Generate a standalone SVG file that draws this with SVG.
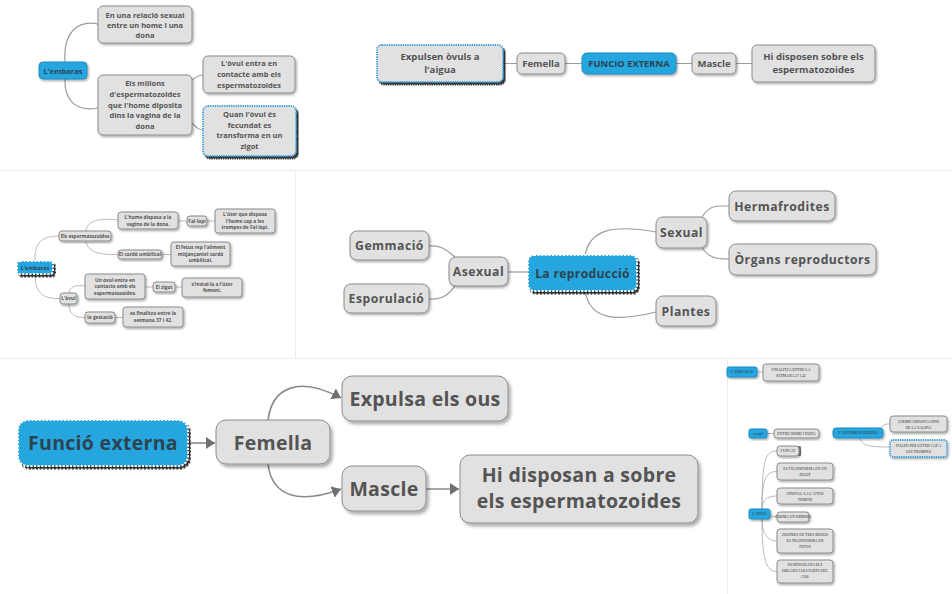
<svg xmlns="http://www.w3.org/2000/svg" width="952" height="594" viewBox="0 0 952 594">
<defs>
<filter id="sh1" x="-20%" y="-20%" width="140%" height="150%"><feDropShadow dx="1.2" dy="1.5" stdDeviation="0.8" flood-color="#000" flood-opacity="0.35"/></filter>
<filter id="sh2" x="-20%" y="-20%" width="140%" height="150%"><feDropShadow dx="2.5" dy="3" stdDeviation="1.5" flood-color="#000" flood-opacity="0.3"/></filter>
<filter id="sh3" x="-20%" y="-20%" width="140%" height="150%"><feDropShadow dx="2" dy="2.5" stdDeviation="0.6" flood-color="#111" flood-opacity="0.85"/></filter>
<marker id="ar" markerUnits="userSpaceOnUse" markerWidth="10" markerHeight="12" refX="9" refY="6" orient="auto"><path d="M0,0 L9,6 L0,12 z" fill="#707070"/></marker>
<style>
.n{fill:#e1e1e1;stroke:#8c8c8c;stroke-width:1}
.b{fill:#27a6de;stroke:#1d8cc0;stroke-width:1}
.bd{fill:#27a6de;stroke:#fff;stroke-width:2;stroke-dasharray:2 1.6}
.gd{fill:#e1e1e1;stroke:#3c9fd6;stroke-width:1.8;stroke-dasharray:1.3 1}
.t{font-family:"Open Sans","DejaVu Sans",sans-serif;font-weight:bold;fill:#545454;text-anchor:middle}
.tb{fill:#2d4350}
.s{font-family:"Liberation Serif","DejaVu Serif",serif;fill:#333;text-anchor:middle;font-size:3.8px}
.c{fill:none;stroke:#9c9c9c;stroke-width:1.2}
.c2{fill:none;stroke:#8a8a8a;stroke-width:1.6}
.c3{fill:none;stroke:#a8a8a8;stroke-width:0.8}
.p{fill:none;stroke:#ececec;stroke-width:1}
</style>
</defs>
<rect x="0" y="0" width="952" height="594" fill="#fff"/>
<g id="panels">
<line class="p" x1="0" y1="170.5" x2="952" y2="170.5"/>
<line class="p" x1="0" y1="358.5" x2="952" y2="358.5"/>
<line class="p" x1="295.5" y1="171" x2="295.5" y2="358"/>
<line class="p" x1="727.5" y1="359" x2="727.5" y2="594"/>
</g>
<g id="connectors">
<!-- top-left -->
<path class="c" d="M65,62 C63,32 78,20 98,24"/>
<path class="c" d="M65,79 C64,102 78,112 98,108"/>
<path class="c" d="M192,80 C197,76 199,75 203,75"/>
<path class="c" d="M192,123 C197,128 199,130 203,130"/>
<!-- top-right -->
<path class="c" d="M503,63.5 H517 M565,63.5 H582 M676,63.5 H692 M736,63.5 H752"/>
<!-- middle-left -->
<path class="c3" d="M35,261 C34,240 45,236 59,236"/>
<path class="c3" d="M86,231 C87,220 100,218 118,220"/>
<path class="c3" d="M86,241 C87,252 100,255 118,254.5"/>
<path class="c3" d="M178,221 H187 M207,221 H215 M162,254.5 H171"/>
<path class="c3" d="M35,274 C35,295 45,299 60,298.5"/>
<path class="c3" d="M69,293 C70,286 75,285 85,286"/>
<path class="c3" d="M69,304 C69,314 75,318 85,317.5"/>
<path class="c3" d="M145,287 H153 M175,287 H182 M115,317.5 H123"/>
<!-- middle-center -->
<path class="c" d="M429,246 C444,245 448,252 455,257"/>
<path class="c" d="M429,299 C445,300 450,292 455,286"/>
<path class="c" d="M508,272 H528"/>
<path class="c" d="M585,255 C590,230 612,224 656,232"/>
<path class="c" d="M585,291 C590,320 615,322 656,312"/>
<path class="c" d="M702,217 C710,205 715,206 729,206"/>
<path class="c" d="M702,248 C710,258 715,259 729,259"/>
<!-- bottom-left -->
<path class="c2" d="M188,443 H215" marker-end="url(#ar)"/>
<path class="c2" d="M268,420 C272,388 298,375 341,398" marker-end="url(#ar)"/>
<path class="c2" d="M268,464 C272,496 298,505 341,489" marker-end="url(#ar)"/>
<path class="c2" d="M426,489 H459" marker-end="url(#ar)"/>
<!-- bottom-right -->
<path class="c3" d="M757,372 H763 M767,433.5 H774"/>
<path class="c3" d="M881,428 C884,424 886,424 890,424"/>
<path class="c3" d="M860,438 C862,446 870,447 890,447"/>
<path class="c3" d="M762,509 C762,460 765,451 777,451"/>
<path class="c3" d="M762,509 C762,478 766,471.5 777,471.5"/>
<path class="c3" d="M762,509 C762,500 767,496 777,496"/>
<path class="c3" d="M770,516 L777,517"/>
<path class="c3" d="M762,519 C762,533 767,541 777,541"/>
<path class="c3" d="M762,519 C762,560 766,571.5 777,571.5"/>
</g>

<!-- top-left mind map -->
<g id="tl-embaras"><rect class="b" x="39" y="62" width="48" height="17" rx="4" filter="url(#sh1)"/><text class="t tb" x="63" y="73.5" font-size="7.5">L'embaras</text></g>
<g id="tl-relacio"><rect class="n" x="98" y="6" width="94" height="37" rx="5" filter="url(#sh1)"/><text class="t" x="145" font-size="7.5"><tspan x="145" y="17.8">En una relació sexual</tspan><tspan x="145" y="28.3">entre un home i una</tspan><tspan x="145" y="38.3">dona</tspan></text></g>
<g id="tl-milions"><rect class="n" x="98" y="75" width="94" height="60" rx="5" filter="url(#sh1)"/><text class="t" font-size="7.5"><tspan x="145" y="86.3">Els milions</tspan><tspan x="145" y="97">d'espermatozoides</tspan><tspan x="145" y="107.7">que l'home diposita</tspan><tspan x="145" y="118.3">dins la vagina de la</tspan><tspan x="145" y="129">dona</tspan></text></g>
<g id="tl-ovul"><rect class="n" x="203" y="56" width="92" height="37" rx="5" filter="url(#sh1)"/><text class="t" font-size="7.5"><tspan x="249" y="66.3">L'òvul entra en</tspan><tspan x="249" y="77">contacte amb els</tspan><tspan x="249" y="87.7">espermatozoides</tspan></text></g>
<g id="tl-quan"><rect class="gd" x="203" y="106" width="93" height="50" rx="5" filter="url(#sh3)"/><text class="t" font-size="7.5"><tspan x="249.5" y="117">Quan l'òvul és</tspan><tspan x="249.5" y="127.7">fecundat es</tspan><tspan x="249.5" y="138.3">transforma en un</tspan><tspan x="249.5" y="148.7">zigot</tspan></text></g>

<!-- top-right mind map -->
<g id="tr-expulsen"><rect class="gd" x="377" y="45" width="126" height="37" rx="5" filter="url(#sh3)"/><text class="t" font-size="9.6"><tspan x="440" y="59.5">Expulsen òvuls a</tspan><tspan x="440" y="73.3">l'aigua</tspan></text></g>
<g id="tr-femella"><rect class="n" x="517" y="53" width="48" height="21" rx="5" filter="url(#sh1)"/><text class="t" x="541" y="67" font-size="9.6">Femella</text></g>
<g id="tr-funcio"><rect class="b" x="582" y="53" width="94" height="21" rx="5" filter="url(#sh1)"/><text class="t tb" x="629" y="67" font-size="9.4">FUNCIO EXTERNA</text></g>
<g id="tr-mascle"><rect class="n" x="692" y="53" width="44" height="21" rx="5" filter="url(#sh1)"/><text class="t" x="714" y="67" font-size="9.6">Mascle</text></g>
<g id="tr-disposen"><rect class="n" x="752" y="45" width="123" height="37" rx="5" filter="url(#sh1)"/><text class="t" font-size="9.6"><tspan x="813.5" y="59.5">Hi disposen sobre els</tspan><tspan x="813.5" y="73.3">espermatozoides</tspan></text></g>

<!-- middle-left mind map -->
<g id="ml-embaras"><rect class="bd" x="17" y="261" width="36" height="13" rx="3" stroke-width="1" stroke-dasharray="1 0.8" filter="url(#sh3)"/><text class="t tb" x="35" y="269.6" font-size="5.6" font-weight="normal">L'embaràs</text></g>
<g id="ml-esperm"><rect class="n" x="59" y="231" width="52" height="10" rx="3" stroke-width="0.6" filter="url(#sh1)"/><text class="t" x="85" y="237.8" font-size="4.8">Els espermatozoides</text></g>
<g id="ml-home"><rect class="n" x="118" y="212" width="60" height="17" rx="3" stroke-width="0.6" filter="url(#sh1)"/><text class="t" font-size="4.8"><tspan x="148" y="219">L'home disposa a la</tspan><tspan x="148" y="225.6">vagina de la dona.</tspan></text></g>
<g id="ml-falopi"><rect class="n" x="187" y="216" width="20" height="10" rx="3" stroke-width="0.6" filter="url(#sh1)"/><text class="t" x="197" y="223" font-size="4.8">Fal·lopi</text></g>
<g id="ml-uter"><rect class="n" x="215" y="209" width="60" height="24" rx="3" stroke-width="0.6" filter="url(#sh1)"/><text class="t" font-size="4.8"><tspan x="245" y="216.2">L'úter que disposa</tspan><tspan x="245" y="222.7">l'home cap a les</tspan><tspan x="245" y="229.2">trompes de Fal·lopi.</tspan></text></g>
<g id="ml-cordo"><rect class="n" x="118" y="250" width="44" height="9" rx="3" stroke-width="0.6" filter="url(#sh1)"/><text class="t" x="140" y="256.4" font-size="4.8">El cordó umbilical</text></g>
<g id="ml-fetus"><rect class="n" x="171" y="242" width="59" height="24" rx="3" stroke-width="0.6" filter="url(#sh1)"/><text class="t" font-size="4.8"><tspan x="200.5" y="249.2">El fetus rep l'aliment</tspan><tspan x="200.5" y="255.7">mitjançantel cordó</tspan><tspan x="200.5" y="262.2">umbilical.</tspan></text></g>
<g id="ml-ovul"><rect class="n" x="60" y="293" width="17" height="11" rx="3" stroke-width="0.6" filter="url(#sh1)"/><text class="t" x="68.5" y="300.4" font-size="4.8">L'òvul</text></g>
<g id="ml-unovul"><rect class="n" x="85" y="274" width="60" height="25" rx="3" stroke-width="0.6" filter="url(#sh1)"/><text class="t" font-size="4.8"><tspan x="115" y="281.6">Un ovul entra en</tspan><tspan x="115" y="288.1">contacte amb els</tspan><tspan x="115" y="294.6">espermatozoides.</tspan></text></g>
<g id="ml-zigot"><rect class="n" x="153" y="282" width="22" height="10" rx="3" stroke-width="0.6" filter="url(#sh1)"/><text class="t" x="164" y="288.9" font-size="4.8">El zigot</text></g>
<g id="ml-installa"><rect class="n" x="182" y="278" width="60" height="19" rx="3" stroke-width="0.6" filter="url(#sh1)"/><text class="t" font-size="4.8"><tspan x="212" y="285.6">s'instal·la a l'úter</tspan><tspan x="212" y="292.1">femení.</tspan></text></g>
<g id="ml-gestacio"><rect class="n" x="85" y="312" width="30" height="11" rx="3" stroke-width="0.6" filter="url(#sh1)"/><text class="t" x="100" y="319.4" font-size="4.8">la gestació</text></g>
<g id="ml-finalitza"><rect class="n" x="123" y="307" width="60" height="20" rx="3" stroke-width="0.6" filter="url(#sh1)"/><text class="t" font-size="4.8"><tspan x="153" y="315">es finalitza entre la</tspan><tspan x="153" y="321.5">setmana 37 i 42.</tspan></text></g>

<!-- middle-center mind map -->
<g id="mc-gemmacio"><rect class="n" x="350" y="231" width="79" height="29" rx="7" filter="url(#sh1)"/><text class="t" x="389.5" y="250.3" font-size="12.2" letter-spacing="0.5">Gemmació</text></g>
<g id="mc-esporulacio"><rect class="n" x="344" y="284" width="85" height="29" rx="7" filter="url(#sh1)"/><text class="t" x="386.5" y="303.3" font-size="12.2" letter-spacing="0.5">Esporulació</text></g>
<g id="mc-asexual"><rect class="n" x="449" y="257" width="59" height="29" rx="7" filter="url(#sh1)"/><text class="t" x="478.5" y="276.3" font-size="12.2" letter-spacing="0.5">Asexual</text></g>
<g id="mc-repro"><rect class="bd" x="528" y="255" width="109" height="36" rx="6" filter="url(#sh3)"/><text class="t tb" x="582.5" y="277.5" font-size="12.2" letter-spacing="0.3">La reproducció</text></g>
<g id="mc-sexual"><rect class="n" x="656" y="217" width="51" height="31" rx="7" filter="url(#sh1)"/><text class="t" x="681.5" y="237" font-size="12.2" letter-spacing="0.5">Sexual</text></g>
<g id="mc-herma"><rect class="n" x="729" y="191" width="106" height="30" rx="7" filter="url(#sh1)"/><text class="t" x="782" y="210.5" font-size="12.2" letter-spacing="0.5">Hermafrodites</text></g>
<g id="mc-organs"><rect class="n" x="729" y="244" width="147" height="31" rx="7" filter="url(#sh1)"/><text class="t" x="802.5" y="264" font-size="12.2" letter-spacing="0.5">Òrgans reproductors</text></g>
<g id="mc-plantes"><rect class="n" x="656" y="296" width="60" height="30" rx="7" filter="url(#sh1)"/><text class="t" x="686" y="315.5" font-size="12.2" letter-spacing="0.5">Plantes</text></g>

<!-- bottom-left mind map -->
<g id="bl-funcio"><rect class="bd" x="18" y="420" width="170" height="46" rx="10" stroke-width="3" stroke-dasharray="3 2.4" filter="url(#sh3)"/><text class="t tb" x="103" y="450" font-size="19.5" letter-spacing="0.3">Funció externa</text></g>
<g id="bl-femella"><rect class="n" x="216" y="420" width="114" height="44" rx="10" stroke-width="1.3" filter="url(#sh2)"/><text class="t" x="273" y="449.5" font-size="19.5" letter-spacing="0.3">Femella</text></g>
<g id="bl-expulsa"><rect class="n" x="342" y="376" width="166" height="45" rx="10" stroke-width="1.3" filter="url(#sh2)"/><text class="t" x="425" y="405.8" font-size="19.5" letter-spacing="0.3">Expulsa els ous</text></g>
<g id="bl-mascle"><rect class="n" x="342" y="466" width="84" height="45" rx="10" stroke-width="1.3" filter="url(#sh2)"/><text class="t" x="384" y="495.8" font-size="19.5" letter-spacing="0.3">Mascle</text></g>
<g id="bl-disposan"><rect class="n" x="460" y="455" width="238" height="68" rx="10" stroke-width="1.3" filter="url(#sh2)"/><text class="t" font-size="19.5" letter-spacing="0.3"><tspan x="579" y="482">Hi disposan a sobre</tspan><tspan x="579" y="508">els espermatozoides</tspan></text></g>

<!-- bottom-right mind map -->
<g id="br-embaras"><rect class="b" x="727" y="367" width="30" height="10" rx="2" stroke-width="0.5" filter="url(#sh1)"/><text class="s" x="742" y="373.4">L' EMBARAS</text></g>
<g id="br-finalitza"><rect class="n" x="763" y="364" width="56" height="17" rx="3" stroke-width="0.6" filter="url(#sh1)"/><text class="s"><tspan x="791" y="371">FINALITZA ENTRE LA</tspan><tspan x="791" y="377.3">SETMANA 37 I 42</tspan></text></g>
<g id="br-sexual"><rect class="b" x="749" y="429" width="18" height="9" rx="2" stroke-width="0.5" filter="url(#sh1)"/><text class="s" x="758" y="435">sexual</text></g>
<g id="br-entre"><rect class="n" x="774" y="429" width="45" height="9" rx="3" stroke-width="0.6" filter="url(#sh1)"/><text class="s" x="796.5" y="435">ENTRE HOME I DONA</text></g>
<g id="br-esperm"><rect class="b" x="833" y="428" width="50" height="10" rx="3" stroke-width="0.5" filter="url(#sh1)"/><text class="s" x="858" y="434.4">L' ESPERMATOZOIDES</text></g>
<g id="br-lhome"><rect class="n" x="890" y="416" width="57" height="16" rx="3" stroke-width="0.6" filter="url(#sh1)"/><text class="s"><tspan x="918.5" y="422.7">LHOME DIPOSITA DINS</tspan><tspan x="918.5" y="428.8">DE LA VAGINA</tspan></text></g>
<g id="br-pugen"><rect class="gd" x="890" y="440" width="57" height="17" rx="3" stroke-width="0.9" stroke-dasharray="0.7 0.5" filter="url(#sh1)"/><text class="s"><tspan x="918.5" y="447">PUGEN PER LUTER CAP A</tspan><tspan x="918.5" y="453.3">LES TROMPES</tspan></text></g>
<g id="br-ovul"><rect class="b" x="749" y="509" width="21" height="10" rx="2" stroke-width="0.5" filter="url(#sh1)"/><text class="s" x="759.5" y="515.4">L' OVUL</text></g>
<g id="br-funcat"><rect x="796" y="446" width="5" height="10" rx="1.5" fill="#777"/><rect class="n" x="777" y="446" width="22" height="10" rx="3" stroke-width="0.6" filter="url(#sh1)"/><text class="s" x="788" y="452.4">FUNCAT</text></g>
<g id="br-zigot"><rect class="n" x="777" y="463" width="56" height="17" rx="3" stroke-width="0.6" filter="url(#sh1)"/><text class="s"><tspan x="805" y="470">ES TRANSFORMA EN UN</tspan><tspan x="805" y="476.4">ZIGOT</tspan></text></g>
<g id="br-installa"><rect class="n" x="777" y="488" width="56" height="16" rx="3" stroke-width="0.6" filter="url(#sh1)"/><text class="s"><tspan x="805" y="494.6">S'INSTAL·LA L' UTER</tspan><tspan x="805" y="500.8">FEMENI</tspan></text></g>
<g id="br-embrio"><rect class="n" x="777" y="512" width="32" height="10" rx="3" stroke-width="0.6" filter="url(#sh1)"/><text class="s" x="793" y="518.4">FORMA UN EMBRIO</text></g>
<g id="br-fetus"><rect class="n" x="777" y="529" width="56" height="24" rx="3" stroke-width="0.6" filter="url(#sh1)"/><text class="s"><tspan x="805" y="535.6">DESPRES DE TRES MESOS</tspan><tspan x="805" y="541.6">ES TRANSFORMA EN</tspan><tspan x="805" y="547.6">FETUS</tspan></text></g>
<g id="br-organs"><rect class="n" x="777" y="560" width="56" height="23" rx="3" stroke-width="0.6" filter="url(#sh1)"/><text class="s"><tspan x="805" y="566.4">DESENVOLUPA ELS</tspan><tspan x="805" y="572.4">ORGANS I LES PARTS DEL</tspan><tspan x="805" y="578.4">COS</tspan></text></g>
</svg>
